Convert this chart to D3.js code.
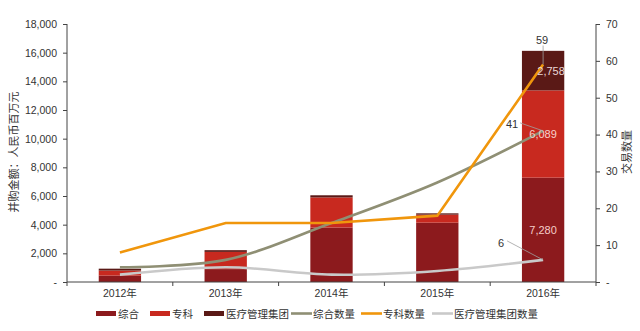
<!DOCTYPE html>
<html><head><meta charset="utf-8">
<script src="https://cdn.jsdelivr.net/npm/d3@7"></script>
<style>
body{margin:0;background:#fff;}
text{font-family:"Liberation Sans","Noto Sans CJK SC",Arial,sans-serif;}
</style></head>
<body><svg id="c" width="640" height="331"></svg>
<script>
const years = ["2012年","2013年","2014年","2015年","2016年"];
const zonghe = [450, 900, 3800, 4140, 7280];
const zhuanke = [350, 1200, 2100, 560, 6089];
const jituan = [130, 120, 150, 90, 2758];
const zongheCount = [4, 6, 16, 27, 41];
const zhuankeCount = [8, 16, 16, 18, 59];
const jituanCount = [2, 4, 2, 3, 6];
const leftTicks = [0,2000,4000,6000,8000,10000,12000,14000,16000,18000];
const rightTicks = [0,10,20,30,40,50,60,70];
const barNames = ["综合","专科","医疗管理集团"];
const lineNames = ["综合数量","专科数量","医疗管理集团数量"];
const barColors = ["#8c1a1d","#c8291f","#5a1916"];
const lineColors = ["#8f8f74","#f0960c","#c9c9c9"];

const svg = d3.select("#c");
const L=67, R=596, T=24, B=282;
const x = d3.scaleBand().domain(years).range([L,R]).paddingInner(0).paddingOuter(0);
const yL = d3.scaleLinear().domain([0,18000]).range([B,T]);
const yR = d3.scaleLinear().domain([0,70]).range([B,T]);
const fmt = d3.format(",");
const bw = x.bandwidth()*0.4;

// bars
const series = [zonghe, zhuanke, jituan];
years.forEach((yr,i)=>{
  let base=0;
  series.forEach((s,k)=>{
    svg.append("rect")
      .attr("x", x(yr)+x.bandwidth()/2-bw/2)
      .attr("width", bw)
      .attr("y", yL(base+s[i]))
      .attr("height", yL(base)-yL(base+s[i]))
      .attr("fill", barColors[k]);
    base+=s[i];
  });
});

// lines
const counts=[zongheCount, zhuankeCount, jituanCount];
const curves=[d3.curveCatmullRom.alpha(0.5), d3.curveLinear, d3.curveCatmullRom.alpha(0.5)];
counts.forEach((c,k)=>{
  const line=d3.line().x((d,i)=>x(years[i])+x.bandwidth()/2).y(d=>yR(d)).curve(curves[k]);
  svg.append("path").attr("d",line(c)).attr("fill","none").attr("stroke",lineColors[k]).attr("stroke-width",2.6);
});

// bar labels 2016
{
  const i=4; let base=0;
  const cols=["#f5cdc8","#f7d2cc","#ead8d6"];
  series.forEach((s,k)=>{
    const mid = base+s[i]/2;
    svg.append("text").attr("x", x(years[i])+x.bandwidth()/2+(k==2?8:0)).attr("y", yL(mid)+4)
      .attr("text-anchor","middle").attr("font-size",11).attr("fill",cols[k]).text(fmt(s[i]));
    base+=s[i];
  });
}
// line labels with leaders
const cx = x(years[4])+x.bandwidth()/2;
const lab = [
  {v:zongheCount[4], lx:cx-31, ly:yR(zongheCount[4])-7, l1:[cx-23,yR(zongheCount[4])-8]},
  {v:zhuankeCount[4], lx:cx-1, ly:yR(zhuankeCount[4])-25, l1:[cx,yR(zhuankeCount[4])-19]},
  {v:jituanCount[4], lx:cx-42, ly:yR(jituanCount[4])-17, l1:[cx-36,yR(jituanCount[4])-19]}
];
lab.forEach(o=>{
  svg.append("path").attr("d",`M${o.l1[0]},${o.l1[1]}L${cx},${yR(o.v)}`).attr("stroke","#a0a0a0").attr("stroke-width",0.8).attr("fill","none");
  svg.append("text").attr("x",o.lx).attr("y",o.ly+4).attr("text-anchor","middle").attr("font-size",11).attr("fill","#333").text(o.v);
});

// axes
const axL = d3.axisLeft(yL).tickValues(leftTicks).tickSize(4).tickFormat(d=>d===0?"-":fmt(d));
const gL = svg.append("g").attr("transform",`translate(${L},0)`).call(axL);
const axR = d3.axisRight(yR).tickValues(rightTicks).tickSize(4).tickFormat(d=>d===0?"-":d);
const gR = svg.append("g").attr("transform",`translate(${R},0)`).call(axR);
[gL,gR].forEach(g=>{
  g.select(".domain").attr("stroke","#444").attr("d",`M0,${T}V${B}`);
  g.selectAll(".tick line").attr("stroke","#444");
  g.selectAll(".tick text").attr("font-size",10.5).attr("fill","#333").attr("font-family",'"Liberation Sans",Arial,sans-serif');
});
gL.selectAll(".tick text").attr("x",-10);
gR.selectAll(".tick text").attr("x",10);
// x axis
const gX = svg.append("g").attr("transform",`translate(0,${B})`);
gX.append("line").attr("x1",L).attr("x2",R).attr("stroke","#444");
years.concat(["end"]).forEach((d,i)=>{
  const px = i<years.length? x(d): R;
  gX.append("line").attr("x1",px).attr("x2",px).attr("y1",0).attr("y2",4).attr("stroke","#444");
});
years.forEach(yr=>{
  gX.append("text").attr("x",x(yr)+x.bandwidth()/2).attr("y",15).attr("text-anchor","middle")
   .attr("font-size",10.5).attr("fill","#333").text(yr);
});

// axis titles
svg.append("text").attr("transform","translate(18,152) rotate(-90)").attr("text-anchor","middle")
  .attr("font-size",11).attr("fill","#333").text("并购金额：人民币百万元");
svg.append("text").attr("transform","translate(631,152) rotate(-90)").attr("text-anchor","middle")
  .attr("font-size",11).attr("fill","#333").text("交易数量");

// legend
const legX=[96,150,204,291,361,432];
const names=barNames.concat(lineNames);
names.forEach((n,i)=>{
  const g=svg.append("g");
  if(i<3){
    g.append("rect").attr("x",legX[i]).attr("y",311).attr("width",20).attr("height",5).attr("fill",barColors[i]);
  } else {
    g.append("line").attr("x1",legX[i]).attr("x2",legX[i]+21).attr("y1",313.5).attr("y2",313.5)
     .attr("stroke",lineColors[i-3]).attr("stroke-width",2.6);
  }
  g.append("text").attr("x",legX[i]+22).attr("y",317.5).attr("font-size",10.5).attr("fill","#333").text(n);
});
</script></body></html>
